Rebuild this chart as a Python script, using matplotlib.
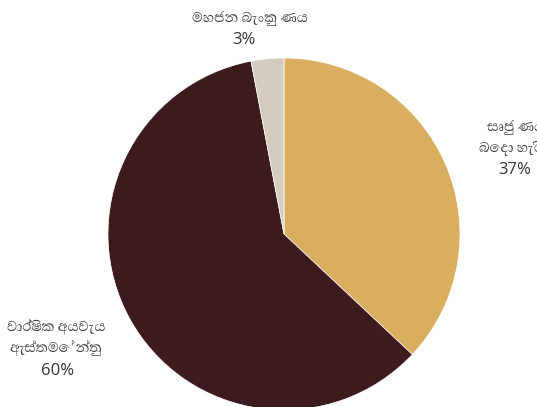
import matplotlib
matplotlib.use("Agg")
import matplotlib.pyplot as plt

SIN = ["Abhaya Libre", "Noto Sans", "DejaVu Sans"]
NUM = ["Open Sans", "DejaVu Sans"]

labels = ["සෘජු ණය\nබෙදා හැරීම්", "වාර්ෂික අයවැය\nඇස්තමේන්තු", "මහජන බැංකු ණය"]
shares = [37, 60, 3]
colors = ["#D9AE5F", "#3D1A1E", "#D3CCBF"]

W, H = 537, 407
fig = plt.figure(figsize=(W / 100, H / 100), dpi=100)
ax = fig.add_axes([0, 0, 1, 1])

cx, cy, r = 284, H - 234, 176
ax.pie(shares, colors=colors, startangle=90, counterclock=False,
       center=(cx, cy), radius=r, frame=True,
       wedgeprops=dict(edgecolor="white", linewidth=0.5))
ax.set_xlim(0, W); ax.set_ylim(0, H); ax.axis("off")
ax.set_aspect("equal")

# label centres (pixel coords from top-left): first line, percentage
pos = [(516, 127), (56, 326), (250, 18)]
pct_pos = [(515, 170), (58, 371), (244, 40)]
for lab, s, (x, y), (px, py) in zip(labels, shares, pos, pct_pos):
    ax.text(x, H - y + 7, lab, ha="center", va="top",
            fontsize=13, color="#404040", family=SIN, linespacing=1.45)
    ax.text(px, H - py, f"{s}%", ha="center", va="center",
            fontsize=12, color="#333333", family=NUM)

fig.savefig("out.png", dpi=100)
